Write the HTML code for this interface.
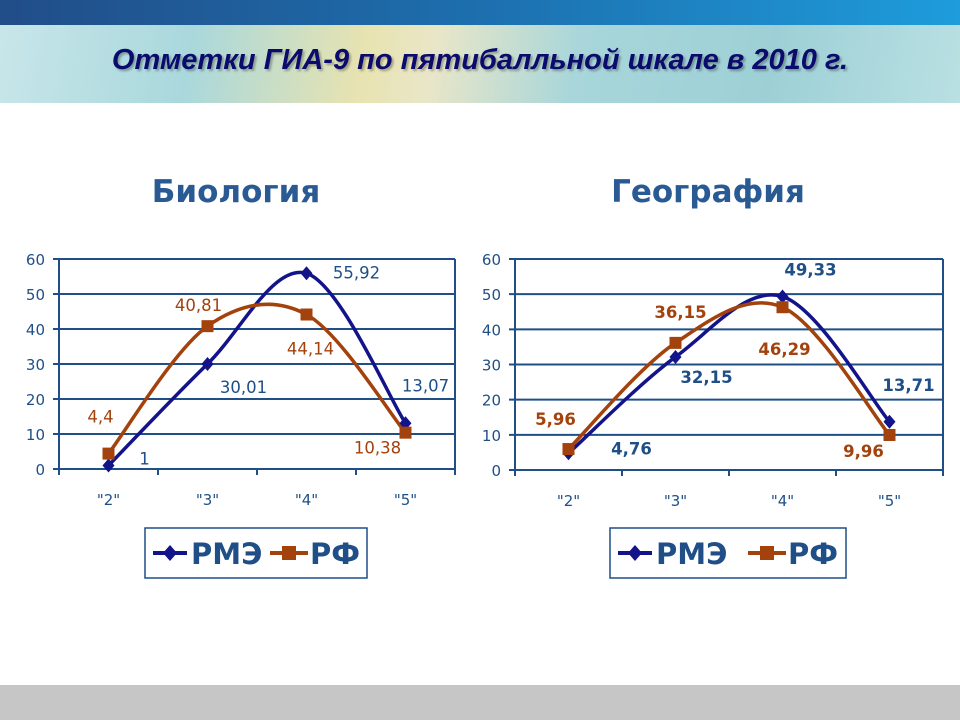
<!DOCTYPE html>
<html><head><meta charset="utf-8"><style>
body{margin:0;width:960px;height:720px;overflow:hidden;background:#fff;font-family:"DejaVu Sans","Liberation Sans",sans-serif}
#top{position:absolute;left:0;top:0;width:960px;height:25px;background:linear-gradient(90deg,#214d88,#1d6fae 50%,#1e9cdb)}
#band{position:absolute;left:0;top:25px;width:960px;height:78px;background:linear-gradient(100deg,#c8e6ea 0%,#a9d8dc 20%,#e8e3b0 38%,#e9e6c8 45%,#a8d6da 60%,#9dd0d6 80%,#b9e0e3 100%)}
#title{position:absolute;left:0;top:44px;width:960px;text-align:center;font:italic bold 29px "Liberation Sans",sans-serif;color:#0b0b6e;text-shadow:2px 2px 2px rgba(0,0,0,.3)}
#bottom{position:absolute;left:0;top:685px;width:960px;height:35px;background:#c6c6c6}
svg{position:absolute;left:0;top:0}
</style></head><body>
<div id="top"></div>
<div id="band"></div>
<div id="title">Отметки ГИА-9 по пятибалльной шкале в 2010 г.</div>
<div id="bottom"></div>
<svg id="s" width="960" height="720"></svg>
<script>
const categories=['"2"','"3"','"4"','"5"'];
const yTicks=[0,10,20,30,40,50,60];
const bioRME=[1,30.01,55.92,13.07];
const bioRF=[4.4,40.81,44.14,10.38];
const geoRME=[4.76,32.15,49.33,13.71];
const geoRF=[5.96,36.15,46.29,9.96];
const bioRMELabels=["1","30,01","55,92","13,07"];
const bioRFLabels=["4,4","40,81","44,14","10,38"];
const geoRMELabels=["4,76","32,15","49,33","13,71"];
const geoRFLabels=["5,96","36,15","46,29","9,96"];

const NS="http://www.w3.org/2000/svg";
const svg=document.getElementById('s');
function el(t,a,p){const e=document.createElementNS(NS,t);for(const k in a)e.setAttribute(k,a[k]);(p||svg).appendChild(e);return e;}
function smooth(pts){let d=`M${pts[0][0]},${pts[0][1]}`;for(let i=0;i<pts.length-1;i++){const p0=pts[i-1]||pts[i],p1=pts[i],p2=pts[i+1],p3=pts[i+2]||p2;
d+=` C${p1[0]+(p2[0]-p0[0])/6},${p1[1]+(p2[1]-p0[1])/6} ${p2[0]-(p3[0]-p1[0])/6},${p2[1]-(p3[1]-p1[1])/6} ${p2[0]},${p2[1]}`;}return d;}
function chart(cfg){
  const g=el('g',{});
  
  
  const {x0,x1,y0,y1}=cfg;
  const n=categories.length,bw=(x1-x0)/n;
  const X=i=>x0+bw*(i+0.5);
  const Y=v=>y1-(v/60)*(y1-y0);
  const t=el('text',{x:cfg.tx,y:202,'text-anchor':'middle','font-size':31,'font-weight':'bold',fill:'#2a5a94'},g);
  t.textContent=cfg.title;
  
  
  yTicks.forEach(v=>{
    const l=el('line',{x1:x0-6,x2:x1,y1:Y(v),y2:Y(v),stroke:'#1f4f86','stroke-width':2},g);
    
    
    const tt=el('text',{x:x0-14,y:Y(v)+6,'text-anchor':'end','font-size':15,fill:'#1f4f86'},g);
    tt.textContent=v;
    
    
  });
  el('line',{x1:x0,x2:x0,y1:y0,y2:y1+6,stroke:'#1f4f86','stroke-width':2},g);
  el('line',{x1:x1,x2:x1,y1:y0,y2:y1+6,stroke:'#1f4f86','stroke-width':2},g);
  for(let i=1;i<n;i++)el('line',{x1:x0+bw*i,x2:x0+bw*i,y1:y1,y2:y1+6,stroke:'#1f4f86','stroke-width':2},g);
  categories.forEach((c,i)=>{
    const tt=el('text',{x:X(i),y:y1+36,'text-anchor':'middle','font-size':15,fill:'#1f4f86'},g);
    tt.textContent=c;
    
    
  });
  const series=[{v:cfg.rme,lab:cfg.rmeL,c:'#13138a',lc:'#1f4f86',m:'diamond',off:cfg.rmeOff,name:'rme'},
                {v:cfg.rf,lab:cfg.rfL,c:'#a3420c',lc:'#a3420c',m:'square',off:cfg.rfOff,name:'rf'}];
  series.forEach(s=>{
    const pts=s.v.map((v,i)=>[X(i),Y(v)]);
    const p=el('path',{d:smooth(pts),fill:'none',stroke:s.c,'stroke-width':3.5},g);
    
    
  });
  series.forEach(s=>{
    s.v.forEach((v,i)=>{
      const x=X(i),y=Y(v);let m;
      if(s.m==='diamond')m=el('polygon',{points:`${x},${y-7} ${x+6},${y} ${x},${y+7} ${x-6},${y}`,fill:s.c},g);
      else m=el('rect',{x:x-6,y:y-6,width:12,height:12,fill:s.c},g);
      
      
      const tt=el('text',{x:x+s.off[i][0],y:y+s.off[i][1],'text-anchor':'middle','font-size':16.5,'font-weight':cfg.bold?'bold':'normal',fill:s.lc},g);
      tt.textContent=s.lab[i];
      
      
    });
  });
  const L=cfg.leg;
  const lg=el('g',{},g);
  
  
  el('rect',{x:L[0],y:528,width:L[1],height:50,fill:'#fff',stroke:'#1f4f86','stroke-width':1.5},lg);
  const lx=L[0]+8;
  el('line',{x1:lx,x2:lx+34,y1:553,y2:553,stroke:'#13138a','stroke-width':4},lg);
  el('polygon',{points:`${lx+17},545 ${lx+24},553 ${lx+17},561 ${lx+10},553`,fill:'#13138a'},lg);
  let a=el('text',{x:lx+38,y:564,'font-size':29,'font-weight':'bold',fill:'#1f4f86'},lg);a.textContent='РМЭ';
  const lx2=L[0]+L[2];
  el('line',{x1:lx2,x2:lx2+38,y1:553,y2:553,stroke:'#a3420c','stroke-width':4},lg);
  el('rect',{x:lx2+12,y:546,width:14,height:14,fill:'#a3420c'},lg);
  a=el('text',{x:lx2+40,y:564,'font-size':29,'font-weight':'bold',fill:'#1f4f86'},lg);a.textContent='РФ';
}
chart({name:'biology-chart',title:'Биология',tx:236,x0:59,x1:455,y0:259,y1:469,rme:bioRME,rf:bioRF,rmeL:bioRMELabels,rfL:bioRFLabels,
  rmeOff:[[36,-1],[36,29],[50,5],[20,-32]],rfOff:[[-8,-31],[-9,-15],[4,40],[-28,21]],leg:[145,222,125],bold:false});
chart({name:'geography-chart',title:'География',tx:708,x0:515,x1:943,y0:259,y1:470,rme:geoRME,rf:geoRF,rmeL:geoRMELabels,rfL:geoRFLabels,
  rmeOff:[[63,1],[31,26],[28,-21],[19,-31]],rfOff:[[-13,-24],[5,-25],[2,48],[-26,22]],leg:[610,236,138],bold:true});
</script>
</body></html>
